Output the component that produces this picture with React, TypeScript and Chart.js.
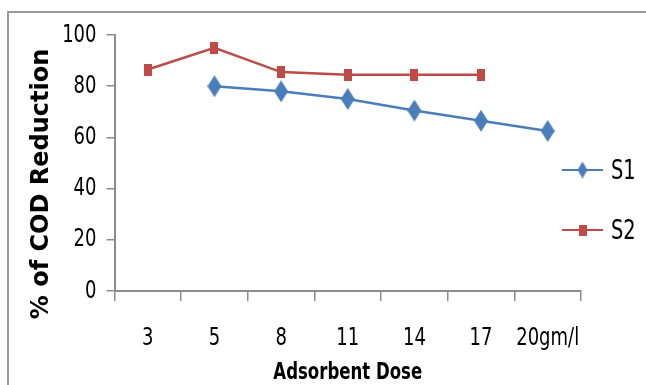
import React, { useEffect, useRef } from "react";
import { Chart, registerables } from "chart.js";

Chart.register(...registerables);

const categories = ["3", "5", "8", "11", "14", "17", "20gm/l"];
const s1Values: (number | null)[] = [null, 80, 78, 75, 70.5, 66.5, 62.5];
const s2Values: (number | null)[] = [86.5, 95, 85.5, 84.5, 84.5, 84.5, null];
const yTicks = [0, 20, 40, 60, 80, 100];
const seriesNames = ["S1", "S2"];
const xTitle = "Adsorbent Dose";
const yTitle = "% of COD Reduction";

const BLUE = "#4A7EBB";
const RED = "#BE4B48";
const AXIS = "#8c8c8c";
const NARROW = "'DejaVu Sans Condensed', 'DejaVu Sans', sans-serif";
const SQUEEZE = 0.8;

function makeMarker(kind: string, w: number, h: number, color: string) {
  const c = document.createElement("canvas");
  c.width = w;
  c.height = h;
  const ctx = c.getContext("2d")!;
  ctx.fillStyle = color;
  ctx.beginPath();
  if (kind === "diamond") {
    ctx.moveTo(w / 2, 0);
    ctx.lineTo(w, h / 2);
    ctx.lineTo(w / 2, h);
    ctx.lineTo(0, h / 2);
    ctx.closePath();
  } else {
    ctx.rect(0, 0, w, h);
  }
  ctx.fill();
  return c;
}

// Draw horizontal text slightly condensed (the reference uses a narrow face).
function installSqueeze(ctx: any, factor: number) {
  if (ctx.__squeezed) return;
  ctx.__squeezed = true;
  const orig = ctx.fillText;
  ctx.fillText = function (text: string, x: number, y: number, maxWidth?: number) {
    const t = this.getTransform();
    if (Math.abs(t.b) > 1e-6 || Math.abs(t.c) > 1e-6) {
      return maxWidth === undefined ? orig.call(this, text, x, y) : orig.call(this, text, x, y, maxWidth);
    }
    this.save();
    this.translate(x, y);
    this.scale(factor, 1);
    if (maxWidth === undefined) orig.call(this, text, 0, 0);
    else orig.call(this, text, 0, 0, maxWidth / factor);
    this.restore();
  };
}

export default function App() {
  const ref = useRef<HTMLCanvasElement | null>(null);

  useEffect(() => {
    if (!ref.current) return;
    const ctx2d = ref.current.getContext("2d")!;
    installSqueeze(ctx2d, SQUEEZE);

    const diamond = makeMarker("diamond", 14, 22, BLUE);
    const square = makeMarker("square", 8, 12, RED);
    const legDiamond = makeMarker("diamond", 10, 17, BLUE);
    const legSquare = makeMarker("square", 8, 11, RED);
    const legendMarkers = [legDiamond, legSquare];

    const framePlugin = {
      id: "frame",
      beforeDraw(chart: any) {
        const ctx = chart.ctx;
        ctx.save();
        ctx.fillStyle = "#ffffff";
        ctx.fillRect(0, 0, chart.width, chart.height);
        ctx.strokeStyle = "#9a9a9a";
        ctx.lineWidth = 2;
        ctx.beginPath();
        ctx.moveTo(8, chart.height + 5);
        ctx.lineTo(8, 12);
        ctx.lineTo(chart.width + 5, 12);
        ctx.stroke();
        ctx.restore();
      },
    };

    const titlePlugin = {
      id: "yTitle",
      afterDraw(chart: any) {
        const ctx = chart.ctx;
        ctx.save();
        ctx.translate(42, 184);
        ctx.rotate(-Math.PI / 2);
        ctx.fillStyle = "#000";
        ctx.font = "bold 24px 'DejaVu Sans', sans-serif";
        ctx.textAlign = "center";
        ctx.textBaseline = "middle";
        ctx.fillText(yTitle, 0, 0);
        ctx.restore();
      },
    };

    const legendPlugin = {
      id: "customLegend",
      afterDraw(chart: any) {
        const ctx = chart.ctx;
        const x0 = chart.chartArea.right - 19;
        chart.data.datasets.forEach((ds: any, i: number) => {
          const y = 170 + i * 60;
          ctx.save();
          ctx.strokeStyle = ds.borderColor;
          ctx.lineWidth = 2.2;
          ctx.beginPath();
          ctx.moveTo(x0, y);
          ctx.lineTo(x0 + 41, y);
          ctx.stroke();
          const m = legendMarkers[i];
          ctx.drawImage(m, x0 + 20.5 - m.width / 2, y - m.height / 2);
          ctx.fillStyle = "#000";
          ctx.font = `27px ${NARROW}`;
          ctx.textBaseline = "middle";
          ctx.textAlign = "left";
          ctx.fillText(ds.label, x0 + 49, y + 2);
          ctx.restore();
        });
      },
    };

    const chart = new Chart(ctx2d, {
      type: "line",
      data: {
        labels: categories,
        datasets: [
          {
            label: seriesNames[0],
            data: s1Values,
            borderColor: BLUE,
            backgroundColor: BLUE,
            borderWidth: 2.5,
            pointStyle: diamond as any,
            pointRadius: 7,
            tension: 0,
          },
          {
            label: seriesNames[1],
            data: s2Values,
            borderColor: RED,
            backgroundColor: RED,
            borderWidth: 2.5,
            pointStyle: square as any,
            pointRadius: 6,
            tension: 0,
          },
        ],
      },
      options: {
        animation: false,
        responsive: false,
        maintainAspectRatio: false,
        layout: { padding: { left: 0, right: 65, top: 35, bottom: 0 } },
        plugins: {
          legend: { display: false },
          tooltip: { enabled: false },
        },
        scales: {
          x: {
            type: "category",
            offset: true,
            grid: {
              offset: true,
              drawOnChartArea: false,
              drawTicks: true,
              tickLength: 10,
              color: AXIS,
              lineWidth: 1.5,
            },
            border: { color: AXIS, width: 2 },
            ticks: {
              color: "#000",
              font: { family: NARROW, size: 25 },
              padding: 22,
              maxRotation: 0,
              autoSkip: false,
            },
            title: {
              display: true,
              text: xTitle,
              color: "#000",
              font: { family: NARROW, size: 23, weight: "bold", lineHeight: 1 },
              padding: 0,
            },
            afterFit: (s: any) => {
              s.height = 94;
            },
          },
          y: {
            min: 0,
            max: 100,
            afterBuildTicks: (s: any) => {
              s.ticks = yTicks.map((v) => ({ value: v }));
            },
            grid: {
              drawOnChartArea: false,
              drawTicks: true,
              tickLength: 8,
              color: AXIS,
              lineWidth: 1.5,
            },
            border: { color: AXIS, width: 2 },
            ticks: {
              color: "#000",
              font: { family: NARROW, size: 25 },
              padding: 10,
            },
            title: { display: false },
            afterFit: (s: any) => {
              s.width = 114.5;
            },
          },
        },
      } as any,
      plugins: [framePlugin, titlePlugin, legendPlugin],
    });
    return () => chart.destroy();
  }, []);

  return (
    <div style={{ position: "absolute", left: 0, top: 0, width: 646, height: 385 }}>
      <canvas ref={ref} width={646} height={385} style={{ width: 646, height: 385, display: "block" }} />
    </div>
  );
}
